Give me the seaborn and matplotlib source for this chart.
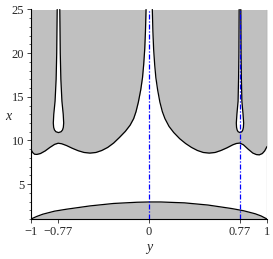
import numpy as np
import pandas as pd
import matplotlib
matplotlib.use("Agg")
import matplotlib.pyplot as plt
import seaborn as sns

# ---- data (horizontal axis = y, vertical axis = x) ----
# upper grey region, lower boundary, left piece
y_up_left = [-1.0, -0.985, -0.97, -0.95, -0.92, -0.88, -0.84, -0.8, -0.77, -0.74,
             -0.7, -0.65, -0.6, -0.55, -0.5, -0.45, -0.4, -0.35, -0.3, -0.25,
             -0.2, -0.16, -0.13, -0.11, -0.09, -0.07, -0.055, -0.045, -0.036, -0.03, -0.025]
x_up_left = [8.95, 8.6, 8.42, 8.4, 8.5, 8.8, 9.2, 9.55, 9.68, 9.62,
             9.42, 9.1, 8.82, 8.62, 8.55, 8.62, 8.85, 9.2, 9.7, 10.35,
             11.05, 11.75, 12.5, 13.3, 14.4, 15.8, 17.2, 18.7, 20.5, 22.5, 25.0]
# upper grey region, lower boundary, right piece
y_up_right = [0.028, 0.033, 0.039, 0.048, 0.058, 0.073, 0.092, 0.113, 0.135, 0.17,
              0.21, 0.26, 0.31, 0.36, 0.41, 0.46, 0.51, 0.56, 0.61, 0.66,
              0.71, 0.74, 0.77, 0.8, 0.84, 0.88, 0.91, 0.935, 0.96, 0.98, 1.0]
x_up_right = [25.0, 22.5, 20.5, 18.7, 17.2, 15.8, 14.4, 13.3, 12.5, 11.6,
              10.9, 10.2, 9.65, 9.2, 8.85, 8.62, 8.55, 8.62, 8.85, 9.15,
              9.5, 9.65, 9.7, 9.5, 9.0, 8.55, 8.38, 8.35, 8.5, 8.8, 9.3]
# white tongues inside the upper region
tongue_x = [10.9, 11.0, 11.2, 11.5, 12.0, 13.0, 14.5, 17.0, 20.0, 25.0]
tongue_left_center = -0.767
tongue_left_hw = [0.0, 0.022, 0.034, 0.041, 0.044, 0.040, 0.029, 0.020, 0.015, 0.011]
tongue_right_center = 0.771
tongue_right_hw = [0.0, 0.016, 0.024, 0.029, 0.031, 0.026, 0.016, 0.012, 0.009, 0.007]
# lower grey arch
y_arch = [-1.0, -0.95, -0.9, -0.8, -0.7, -0.5, -0.3, -0.1, 0.0, 0.1, 0.3, 0.5,
          0.7, 0.8, 0.9, 0.95, 1.0]
x_arch = [1.0, 1.3, 1.55, 1.9, 2.12, 2.5, 2.78, 2.92, 2.95, 2.95, 2.85, 2.6,
          2.2, 1.95, 1.6, 1.35, 1.0]
# dash-dot reference lines
vlines_y = [0.0, 0.77]
xticks = [-1, -0.77, 0, 0.77, 1]
xtick_labels = ["\u22121", "\u22120.77", "0", "0.77", "1"]
yticks = [5, 10, 15, 20, 25]

GREY = "#c0c0c0"

sns.set_style("white")
plt.rcParams["font.family"] = ["Liberation Serif", "DejaVu Serif"]

fig = plt.figure(figsize=(2.73, 2.59), dpi=100)
ax = fig.add_axes([31 / 273, 1 - 219 / 259, (267 - 31) / 273, (219 - 9.5) / 259])
XMIN, XMAX = 1, 25

# upper region fills
ax.fill_between(y_up_left, x_up_left, XMAX, color=GREY, lw=0, zorder=1)
ax.fill_between(y_up_right, x_up_right, XMAX, color=GREY, lw=0, zorder=1)
# lower arch fill
ax.fill_between(y_arch, XMIN, x_arch, color=GREY, lw=0, zorder=1)

# tongues (white holes)
for c, hw in [(tongue_left_center, tongue_left_hw), (tongue_right_center, tongue_right_hw)]:
    hw = np.array(hw)
    tx = np.array(tongue_x)
    py = np.concatenate([c - hw[::-1], c + hw[1:]])
    px = np.concatenate([tx[::-1], tx[1:]])
    ax.fill(py, px, color="white", lw=0, zorder=2)
    df = pd.DataFrame({"y": py, "x": px})
    sns.lineplot(data=df, x="y", y="x", sort=False, estimator=None,
                 color="black", lw=0.9, ax=ax, zorder=3)

# boundary curves
for yy, xx in [(y_up_left, x_up_left), (y_up_right, x_up_right), (y_arch, x_arch)]:
    df = pd.DataFrame({"y": yy, "x": xx})
    sns.lineplot(data=df, x="y", y="x", sort=False, estimator=None,
                 color="black", lw=0.9, ax=ax, zorder=3)

# right edge line of region
ax.plot([1, 1], [XMIN, XMAX], color="#707070", lw=0.8, zorder=3)

# blue dash-dot lines
for v in vlines_y:
    ax.plot([v, v], [XMIN, XMAX], color="#0000ff", lw=0.9,
            linestyle=(0, (4, 1.5, 1, 1.5)), zorder=4)

ax.set_xlim(-1, 1)
ax.set_ylim(XMIN, XMAX)
for s in ["top", "right"]:
    ax.spines[s].set_visible(False)
for s in ["left", "bottom"]:
    ax.spines[s].set_color("black")
    ax.spines[s].set_linewidth(0.8)
ax.set_xticks(xticks)
ax.set_xticklabels(xtick_labels)
ax.set_yticks(yticks)
ax.set_yticks(np.arange(1, 25, 1), minor=True)
ax.tick_params(axis="both", which="major", direction="out", length=3, width=0.6,
               labelsize=9, pad=2, left=True, bottom=True)
ax.tick_params(axis="y", which="minor", direction="out", length=1.5, width=0.5, left=True)
ax.set_xlabel("y", fontsize=10, style="italic", labelpad=2)
ax.set_ylabel("x", fontsize=10, style="italic", rotation=0, labelpad=6)
ax.yaxis.set_label_coords(-0.095, 0.46)
ax.grid(False)

fig.savefig("out.png", dpi=100)
